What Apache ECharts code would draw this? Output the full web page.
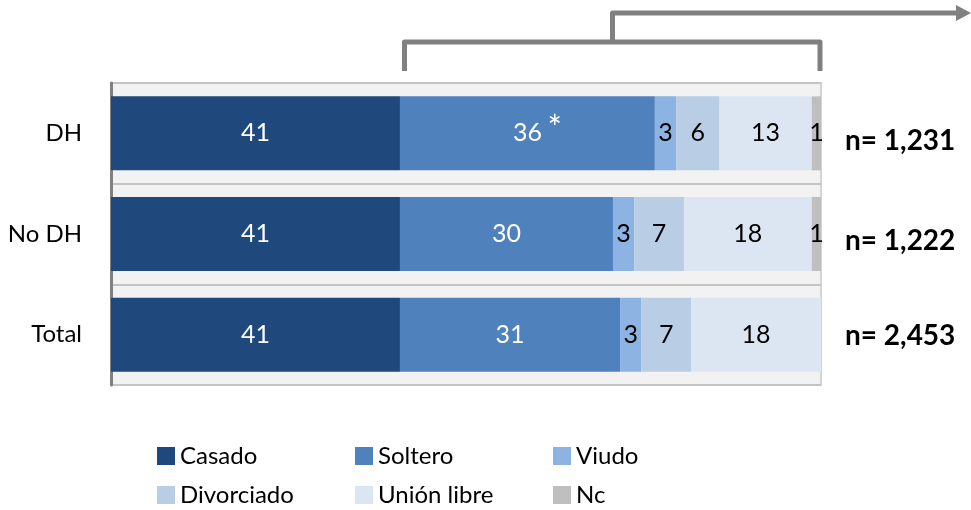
<!DOCTYPE html>
<html>
<head>
<meta charset="utf-8">
<script src="https://cdn.jsdelivr.net/npm/echarts@6/dist/echarts.min.js"></script>
<style>
html,body{margin:0;padding:0;background:#fff;}
#c{width:971px;height:510px;}
</style>
</head>
<body>
<div id="c"></div>
<script>
// ---- data ----
const categories = ['DH', 'No DH', 'Total'];
const sampleSizes = ['n= 1,231', 'n= 1,222', 'n= 2,453'];
const seriesNames = ['Casado', 'Soltero', 'Viudo', 'Divorciado', 'Unión libre', 'Nc'];
const casado = [40.7, 40.7, 40.7];
const soltero = [35.9, 30.0, 31.0];
const viudo = [3.0, 3.0, 3.0];
const divorciado = [6.1, 7.0, 7.0];
const unionLibre = [13.0, 18.0, 18.3];
const nc = [1.3, 1.3, 0];
const significant = [true, false, false]; // asterisk on Soltero

const colors = ['#1f497d', '#4f81bd', '#8db3e2', '#b9cde5', '#dce6f2', '#bfbfbf'];
const labelColors = ['#ffffff', '#ffffff', '#000000', '#000000', '#000000', '#000000'];
const FONT = 'Lato';

const allValues = [casado, soltero, viudo, divorciado, unionLibre, nc];

const series = allValues.map((vals, si) => ({
  name: seriesNames[si],
  type: 'bar',
  stack: 'total',
  barWidth: 74,
  itemStyle: { color: colors[si] },
  label: {
    show: true,
    position: 'inside',
    color: labelColors[si],
    fontFamily: FONT,
    fontSize: 25,
    formatter: p => (p.value > 0 ? String(Math.round(p.value)) : '')
  },
  data: vals
}));

const legends = seriesNames.map((name, i) => ({
  data: [name],
  left: [157, 355, 553][i % 3],
  top: i < 3 ? 444 : 483,
  padding: 0,
  icon: 'rect',
  itemWidth: 18,
  itemHeight: 18,
  itemGap: 0,
  selectedMode: false,
  textStyle: { fontFamily: FONT, fontSize: 24, color: '#000', lineHeight: 24 }
}));

const grey = '#808080';
const graphics = [
  { id: 'br1', type: 'polyline', shape: { points: [[404.5, 71], [404.5, 42], [820, 42], [820, 71]] },
    style: { stroke: grey, lineWidth: 5, fill: null, lineJoin: 'round' } },
  { id: 'br2', type: 'polyline', shape: { points: [[612.5, 42], [612.5, 13], [958, 13]] },
    style: { stroke: grey, lineWidth: 5, fill: null, lineJoin: 'round' } },
  { id: 'arr', type: 'polygon', shape: { points: [[956, 5], [971, 13], [956, 21]] },
    style: { fill: grey } }
];
[141, 241, 336].forEach((y, i) => {
  graphics.push({
    id: 'n' + i, type: 'text', x: 845, y: y,
    style: { text: sampleSizes[i], font: 'bold 28px ' + FONT, fill: '#000', textVerticalAlign: 'middle', verticalAlign: 'middle' }
  });
});

const chart = echarts.init(document.getElementById('c'), null, { renderer: 'canvas' });
chart.setOption({
  animation: false,
  backgroundColor: '#ffffff',
  grid: {
    left: 111, right: 150, top: 83, bottom: 125,
    show: true, backgroundColor: '#f2f2f2', borderColor: '#d4d4d4', borderWidth: 2
  },
  xAxis: { type: 'value', min: 0, max: 100, show: false },
  yAxis: {
    type: 'category',
    inverse: true,
    data: categories,
    axisTick: { show: false },
    axisLine: { show: true, lineStyle: { color: '#808080', width: 3 } },
    axisLabel: { fontFamily: FONT, fontSize: 24, color: '#000', margin: 29 },
    splitLine: { show: true, lineStyle: { color: '#c4c4c4', width: 2 } }
  },
  legend: legends,
  series: series,
  graphic: { elements: graphics }
});

// significance asterisks placed next to the Soltero value label
const extra = [];
significant.forEach((sig, i) => {
  if (!sig) return;
  const mid = chart.convertToPixel({ xAxisIndex: 0, yAxisIndex: 0 }, [casado[i] + soltero[i] / 2, i]);
  if (!mid || isNaN(mid[0])) return;
  extra.push({
    id: 'ast' + i, type: 'text', x: mid[0] + 20, y: mid[1] - 4, z: 100,
    style: { text: '*', font: '34px ' + FONT, fill: '#ffffff', textVerticalAlign: 'middle', verticalAlign: 'middle' }
  });
});
chart.setOption({ graphic: { elements: graphics.concat(extra) } });
</script>
</body>
</html>
